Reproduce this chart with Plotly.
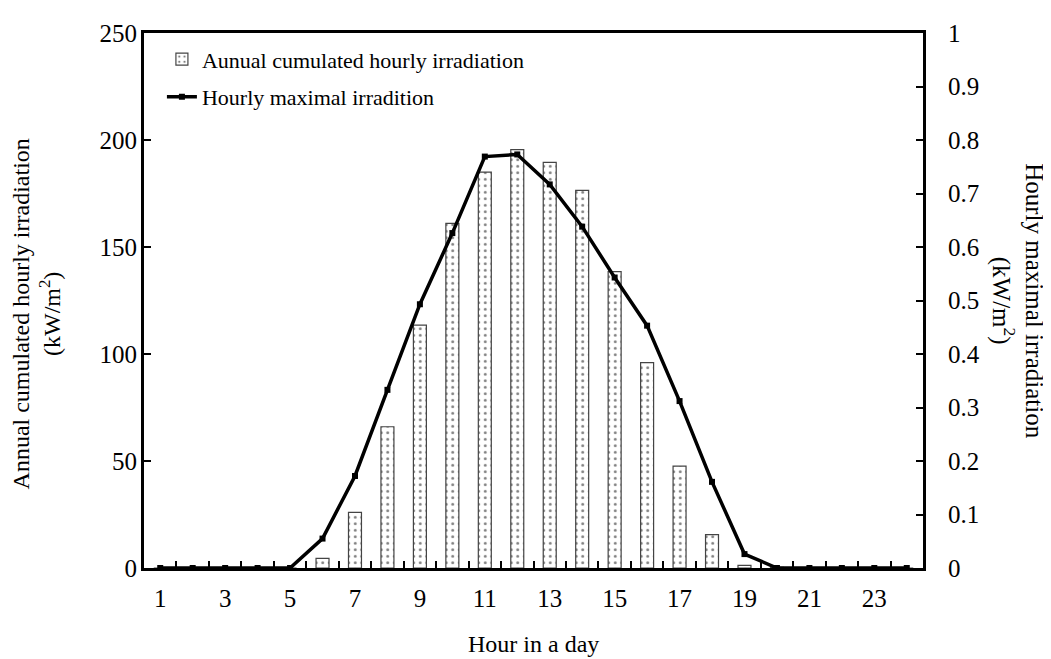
import plotly.graph_objects as go

hours = list(range(1, 25))
annual_cum = [0, 0, 0, 0, 0, 4.5, 26, 66, 113.5, 161, 185, 195.5, 189.5, 176.5, 138.5, 96, 47.6, 15.6, 1.2, 0.3, 0, 0, 0, 0]
hourly_max = [0, 0, 0, 0, 0, 0.055, 0.172, 0.333, 0.493, 0.626, 0.769, 0.773, 0.717, 0.638, 0.543, 0.453, 0.312, 0.161, 0.026, 0, 0, 0, 0, 0]
xtick_vals = list(range(1, 25, 2))
xtick_text = [str(v) for v in xtick_vals]
boundaries = [h + 0.5 for h in range(0, 25)]

FONT = "Liberation Serif"

fig = go.Figure()
fig.add_trace(go.Bar(
    x=hours, y=annual_cum, name="Aunual cumulated hourly irradiation",
    width=0.4, legendgroup="a",
    marker=dict(color="white", line=dict(color="#444444", width=1.2),
                pattern=dict(shape=".", fgcolor="black", bgcolor="white", size=6.5, solidity=0.16)),
    yaxis="y", xaxis="x",
))
fig.add_trace(go.Scatter(
    x=hours, y=hourly_max, name="Hourly maximal irradition",
    mode="lines+markers", legendgroup="b",
    line=dict(color="black", width=3.5),
    marker=dict(symbol="square", size=6, color="black"),
    yaxis="y2", xaxis="x",
))
# invisible trace to activate boundary tick axis
fig.add_trace(go.Scatter(x=[0.5], y=[0], mode="markers", marker=dict(opacity=0),
                         showlegend=False, hoverinfo="skip", xaxis="x2", yaxis="y"))

fig.update_layout(
    width=1043, height=651,
    margin=dict(l=136, r=128, t=19, b=91),
    paper_bgcolor="white", plot_bgcolor="white",
    font=dict(family=FONT, size=24, color="black"),
    xaxis=dict(range=[0.5, 24.5], tickvals=xtick_vals, ticktext=xtick_text, ticks="",
               showline=True, linecolor="black", linewidth=3, mirror=True,
               showgrid=False, zeroline=False, tickfont=dict(size=25), ticklabelstandoff=6),
    xaxis2=dict(range=[0.5, 24.5], overlaying="x", tickvals=boundaries, ticks="inside",
                ticklen=7, tickwidth=2, tickcolor="black", showticklabels=False,
                showgrid=False, zeroline=False, showline=False),
    yaxis=dict(range=[0, 250], dtick=50, ticks="inside", ticklen=7, tickwidth=2, tickcolor="black",
               showline=True, linecolor="black", linewidth=3, showgrid=False, zeroline=False,
               tickfont=dict(size=25), ticklabelstandoff=-1),
    yaxis2=dict(range=[0, 1], dtick=0.1, overlaying="y", side="right", ticks="inside", ticklen=7,
                tickwidth=2, tickcolor="black", showline=True, linecolor="black", linewidth=3,
                showgrid=False, zeroline=False, tickfont=dict(size=25), ticklabelstandoff=17),
    legend=dict(x=0.023, y=0.99, xanchor="left", yanchor="top", bgcolor="rgba(0,0,0,0)",
                font=dict(size=22), traceorder="grouped", tracegroupgap=6),
    showlegend=True,
    annotations=[
        dict(text="Annual cumulated hourly irradiation<br>(kW/m<sup>2</sup>)", xref="paper", yref="paper",
             x=-0.1386, y=0.474, xanchor="center", yanchor="middle", textangle=-90, showarrow=False,
             font=dict(size=24)),
        dict(text="Hourly maximal irradiation<br>(kW/m<sup>2</sup>)", xref="paper", yref="paper",
             x=1.121, y=0.5, xanchor="center", yanchor="middle", textangle=90, showarrow=False,
             font=dict(size=25)),
        dict(text="Hour in a day", xref="paper", yref="paper", x=0.5, y=-0.142,
             xanchor="center", yanchor="middle", showarrow=False, font=dict(size=24)),
    ],
)

fig.write_html("out.html")
